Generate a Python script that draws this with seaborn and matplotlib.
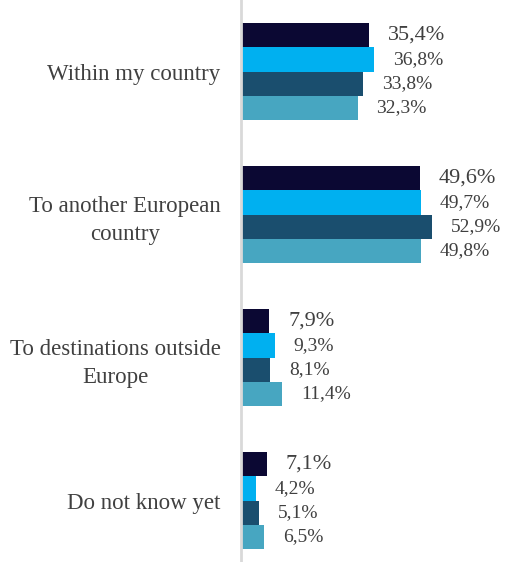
import matplotlib
matplotlib.use("Agg")
import matplotlib.pyplot as plt
import seaborn as sns
import pandas as pd

# Chart data
categories = ["Within my country", "To another European\ncountry",
              "To destinations outside\nEurope", "Do not know yet"]
series = ["Series 1", "Series 2", "Series 3", "Series 4"]
values_s1 = [35.4, 49.6, 7.9, 7.1]
values_s2 = [36.8, 49.7, 9.3, 4.2]
values_s3 = [33.8, 52.9, 8.1, 5.1]
values_s4 = [32.3, 49.8, 11.4, 6.5]

palette = ["#0b0833", "#00b0f0", "#1a4e6e", "#47a6c1"]

df = pd.DataFrame({
    "category": categories * 4,
    "series": [s for s in series for _ in categories],
    "value": values_s1 + values_s2 + values_s3 + values_s4,
})

sns.set_style("white")
plt.rcParams["font.family"] = ["Liberation Serif", "DejaVu Serif"]

fig = plt.figure(figsize=(5.05, 5.62), dpi=100)
ax = fig.add_axes([0.477, 0.0, 0.523, 1.0])

sns.barplot(data=df, y="category", x="value", hue="series", orient="h",
            palette=palette, width=0.68, ax=ax, legend=False,
            saturation=1, linewidth=0)

ax.set_xlim(0, 73)
ax.set_ylim(3.43, -0.5)

# value labels, first series a bit larger
for i, cont in enumerate(ax.containers):
    labels = [f"{v:.1f}".replace(".", ",") + "%" for v in cont.datavalues]
    ax.bar_label(cont, labels=labels, padding=13.5,
                 fontsize=16 if i == 0 else 14, color="#404040")

ax.set_xlabel("")
ax.set_ylabel("")
ax.set_xticks([])
ax.tick_params(axis="y", length=0, pad=14.5, labelsize=16.5, labelcolor="#404040")
for lab in ax.get_yticklabels():
    lab.set_multialignment("center")
    lab.set_linespacing(1.45)

for side in ["top", "right", "bottom"]:
    ax.spines[side].set_visible(False)
ax.spines["left"].set_color("#d9d9d9")
ax.spines["left"].set_linewidth(2)

fig.savefig("out.png", dpi=100)
